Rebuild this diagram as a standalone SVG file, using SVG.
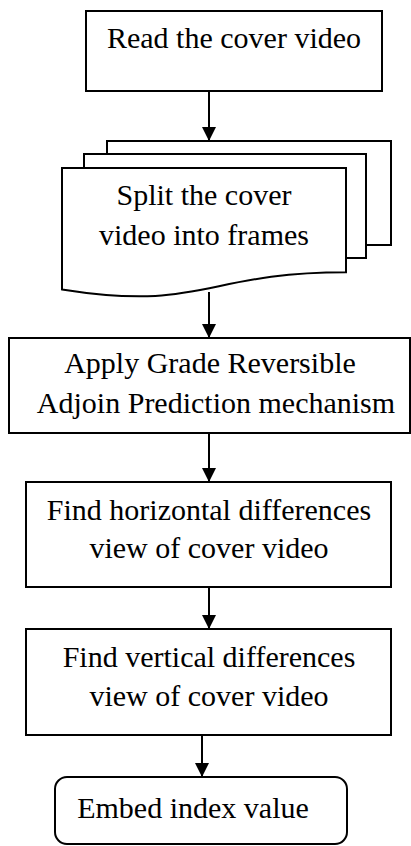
<svg xmlns="http://www.w3.org/2000/svg" width="411" height="846" viewBox="0 0 411 846">
<style>
.box{fill:#fff;stroke:#000;stroke-width:2}
.t{font-family:"Liberation Serif","Times New Roman",serif;font-size:30px;fill:#000;text-anchor:middle}
.ln{stroke:#000;stroke-width:2;fill:none}
</style>
<defs>
<marker id="ah" markerWidth="14" markerHeight="14" refX="14" refY="7" orient="auto" markerUnits="userSpaceOnUse">
<path d="M0,0 L14,7 L0,14 Z" fill="#000"/>
</marker>
</defs>
<rect width="411" height="846" fill="#fff"/>
<g id="connectors">
<line class="ln" x1="209" y1="91" x2="209" y2="141" marker-end="url(#ah)"/>
<line class="ln" x1="209" y1="292" x2="209" y2="338" marker-end="url(#ah)"/>
<line class="ln" x1="209" y1="433" x2="209" y2="482" marker-end="url(#ah)"/>
<line class="ln" x1="209" y1="587" x2="209" y2="629" marker-end="url(#ah)"/>
<line class="ln" x1="202" y1="735" x2="202" y2="777" marker-end="url(#ah)"/>
</g>
<g id="n1">
<rect class="box" x="86" y="11" width="296" height="80"/>
<text class="t" x="234" y="48">Read the cover video</text>
</g>
<g id="n2">
<path class="box" d="M107,154 V141 H391 V245 H366"/>
<path class="box" d="M84,168 V154 H366 V258 H346"/>
<path class="box" d="M62,168 H346 V272.3 C204,272.3 204,312 62,289.4 Z"/>
<text class="t" x="204" y="205">Split the cover</text>
<text class="t" x="204" y="245">video into frames</text>
</g>
<g id="n3">
<rect class="box" x="9" y="338" width="401" height="95"/>
<text class="t" x="210" y="373">Apply Grade Reversible</text>
<text class="t" x="216" y="413">Adjoin Prediction mechanism</text>
</g>
<g id="n4">
<rect class="box" x="26" y="482" width="365" height="105"/>
<text class="t" x="209" y="520">Find horizontal differences</text>
<text class="t" x="209" y="558">view of cover video</text>
</g>
<g id="n5">
<rect class="box" x="26" y="629" width="365" height="106"/>
<text class="t" x="209" y="667">Find vertical differences</text>
<text class="t" x="209" y="706">view of cover video</text>
</g>
<g id="n6">
<rect class="box" x="55" y="777" width="292" height="67" rx="12" ry="12"/>
<text class="t" x="193" y="818">Embed index value</text>
</g>
</svg>
